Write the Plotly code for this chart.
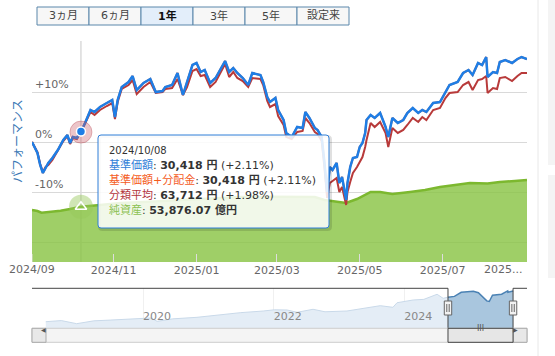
import plotly.graph_objects as go

# ---------------- data ----------------
dates = [
    "2024-09-02", "2024-09-06", "2024-09-08", "2024-09-10", "2024-09-12", "2024-09-14",
    "2024-09-17", "2024-09-21", "2024-09-25", "2024-09-28", "2024-09-30", "2024-10-02",
    "2024-10-05", "2024-10-08", "2024-10-11", "2024-10-13", "2024-10-15", "2024-10-18",
    "2024-10-22", "2024-10-27", "2024-10-31", "2024-11-02", "2024-11-04", "2024-11-07",
    "2024-11-12", "2024-11-15", "2024-11-18", "2024-11-23", "2024-11-28", "2024-12-02",
    "2024-12-07", "2024-12-09", "2024-12-14", "2024-12-18", "2024-12-22", "2024-12-25",
    "2024-12-29", "2025-01-01", "2025-01-04", "2025-01-07", "2025-01-11", "2025-01-15",
    "2025-01-17", "2025-01-22", "2025-01-25", "2025-01-28", "2025-01-31", "2025-02-04",
    "2025-02-08", "2025-02-11", "2025-02-17", "2025-02-19", "2025-02-22", "2025-02-24",
    "2025-02-28", "2025-03-02", "2025-03-06", "2025-03-08", "2025-03-12", "2025-03-16",
    "2025-03-20", "2025-03-22", "2025-03-25", "2025-03-29", "2025-03-31", "2025-04-03",
    "2025-04-05", "2025-04-07", "2025-04-09", "2025-04-11", "2025-04-14", "2025-04-16",
    "2025-04-18", "2025-04-21", "2025-04-22", "2025-04-24", "2025-04-26", "2025-04-29",
    "2025-05-01", "2025-05-03", "2025-05-05", "2025-05-06", "2025-05-09", "2025-05-12",
    "2025-05-16", "2025-05-20", "2025-05-22", "2025-05-25", "2025-05-29", "2025-06-02",
    "2025-06-05", "2025-06-09", "2025-06-13", "2025-06-16", "2025-06-19", "2025-06-24",
    "2025-06-29", "2025-07-03", "2025-07-06", "2025-07-12", "2025-07-16", "2025-07-20",
    "2025-07-23", "2025-07-27", "2025-07-30", "2025-08-02", "2025-08-03", "2025-08-07",
    "2025-08-10", "2025-08-12", "2025-08-16", "2025-08-21", "2025-08-25", "2025-08-28",
    "2025-09-01",
]
# 基準価額 performance (%)
price_pct = [
    0.0, -2.2, -4.6, -6.2, -5.2, -4.2,
    -3.2, -1.6, 0.4, 1.4, -0.2, 1.0,
    0.8, 2.11, 3.8, 5.0, 6.4, 6.0,
    7.0, 7.8, 8.4, 5.0, 8.4, 11.0,
    12.0, 13.2, 10.4, 11.8, 12.6, 10.0,
    10.2, 11.0, 11.4, 13.8, 9.4, 12.0,
    15.4, 15.8, 14.0, 14.4, 11.8, 12.8,
    13.8, 16.2, 14.0, 14.8, 13.8, 12.8,
    11.4, 13.8, 13.4, 12.0, 9.0, 8.0,
    8.8, 6.4, 4.4, 1.8, 1.0, 3.0,
    2.8, 6.0, 4.8, 2.8, 2.4, 1.0,
    -4.0, -10.0, -5.0, -5.6, -4.2, -8.2,
    -7.0, -11.6, -8.2, -5.0, -3.2, -3.0,
    -1.0, -0.2, 1.8, 4.4, 5.4, 4.8,
    5.8, 3.0, 1.0, 4.8, 3.8, 4.4,
    5.8, 6.8, 5.8, 6.4, 6.0, 7.8,
    8.0, 10.0, 11.4, 12.0, 13.8, 14.4,
    13.4, 15.8, 15.4, 17.0, 13.0, 14.0,
    13.8, 16.0, 16.4, 15.8, 16.6, 17.0,
    16.6,
]
# 基準価額+分配金 performance (%) — no distributions, identical to 基準価額
price_dist_pct = list(price_pct)
# 分類平均 performance (%)
category_pct = [
    0.0, -2.0, -4.4, -6.0, -5.0, -4.6,
    -3.6, -1.8, 0.2, 1.2, -0.4, 0.8,
    0.6, 1.98, 3.6, 4.6, 6.0, 5.4,
    6.4, 7.2, 7.8, 4.6, 8.0, 10.6,
    11.4, 12.4, 9.6, 11.0, 12.0, 9.8,
    10.0, 10.6, 10.8, 12.6, 9.4, 11.0,
    14.2, 14.6, 13.2, 13.4, 11.0, 12.0,
    13.0, 15.6, 13.0, 14.0, 12.8, 12.2,
    11.0, 12.8, 12.6, 11.4, 8.2, 7.0,
    7.6, 5.2, 3.4, 1.0, 0.6, 2.0,
    2.2, 4.8, 3.8, 2.0, 1.6, 0.2,
    -5.0, -11.2, -8.2, -7.8, -7.2, -10.0,
    -9.0, -12.6, -10.0, -8.0, -6.2, -5.0,
    -4.0, -3.0, -1.0, 0.4, 3.8, 3.0,
    4.0, 1.8, -1.0, 2.8, 1.8, 2.4,
    3.4, 4.8, 4.0, 5.0, 4.4, 6.4,
    6.8, 8.8, 9.8, 10.0, 11.4, 12.0,
    10.4, 12.4, 12.6, 13.2, 9.8, 10.8,
    10.6, 12.8, 13.0, 12.2, 13.2, 13.8,
    13.8,
]

# 純資産 (億円)
asset_dates = [
    "2024-09-02", "2024-09-06", "2024-09-09", "2024-09-15", "2024-09-23", "2024-09-30",
    "2024-10-08", "2024-10-22", "2024-11-06", "2024-11-27", "2024-12-19", "2025-01-11",
    "2025-02-02", "2025-02-24", "2025-03-18", "2025-03-29", "2025-04-05", "2025-04-12",
    "2025-04-21", "2025-04-29", "2025-05-09", "2025-05-16", "2025-05-25", "2025-06-07",
    "2025-06-18", "2025-06-29", "2025-07-10", "2025-07-21", "2025-08-03", "2025-08-12",
    "2025-08-23", "2025-09-01",
]
net_assets = [
    50650, 49670, 48030, 48700, 49970, 51600,
    53876.07, 55520, 57470, 58730, 60390, 62340,
    63300, 63600, 63300, 63300, 60400, 59400,
    57470, 61360, 68180, 68180, 66230, 68180,
    70130, 73050, 75000, 76950, 76460, 77920,
    78900, 79870,
]

# navigator: 基準価額 (円) since inception
hist_dates = [
    "2018-07-06", "2018-10-01", "2018-12-26", "2019-04-01", "2019-07-01", "2019-10-24",
    "2020-02-15", "2020-03-20", "2020-06-15", "2020-10-29", "2021-03-01", "2021-07-01",
    "2021-11-03", "2022-01-04", "2022-03-17", "2022-05-12", "2022-08-09", "2022-10-15",
    "2023-02-15", "2023-05-15", "2023-08-20", "2023-10-30", "2023-11-22", "2024-02-20",
    "2024-04-20", "2024-07-03", "2024-08-06", "2024-09-02",
]
hist_price = [
    10000, 10900, 8400, 10700, 11300, 11900,
    13000, 10300, 12300, 13550, 15500, 17300,
    18600, 19600, 19430, 17580, 20000, 18000,
    18620, 20500, 22900, 21600, 25300, 27500,
    28000, 32100, 28860, 29789,
]
sel_dates = [
    "2024-09-02", "2024-10-08", "2024-11-15", "2025-01-22", "2025-02-19", "2025-03-12",
    "2025-04-07", "2025-04-21", "2025-05-09", "2025-06-29", "2025-08-02", "2025-08-03",
    "2025-09-01",
]
sel_price = [
    29789, 30418, 33700, 34600, 33400, 30100,
    26800, 26300, 31400, 32200, 34850, 33660,
    34730,
]

x_tick_vals = ["2024-09-02", "2024-11-01", "2025-01-01", "2025-03-01", "2025-05-01", "2025-07-01"]
x_tick_text = ["2024/09", "2024/11", "2025/01", "2025/03", "2025/05", "2025/07"]
x_last_label = "2025..."
y_tick_vals = [-20, -10, 0, 10, 20]
y_tick_text = ["", "-10%", "0%", "+10%", ""]
nav_tick_vals = ["2020-01-01", "2022-01-01", "2024-01-01"]
nav_tick_text = ["2020", "2022", "2024"]
range_buttons = ["3ヵ月", "6ヵ月", "1年", "3年", "5年", "設定来"]
selected_button = 2

hover_date = "2024-10-08"
hover_label_date = "2024/10/08"
hover_price_yen = "30,418"
hover_category_yen = "63,712"

# ---------------- layout helpers ----------------
PL, PT, PW, PH = 32, 41, 495, 307
W, H = 555, 356


def fx(px):
    return (px - PL) / PW


def fy(py):
    return (PT + PH - py) / PH


FONT = "DejaVu Sans, Noto Sans CJK JP, sans-serif"
BLUE = "#1e7ee6"
RED = "#b83a3a"
ORANGE = "#f45b1d"
GREEN_LINE = "#7cb82f"

hi = dates.index(hover_date)
ai = asset_dates.index(hover_date)

fig = go.Figure()

# 基準価額+分配金 (hidden beneath 基準価額)
fig.add_trace(go.Scatter(x=dates, y=price_dist_pct, mode="lines",
                         line=dict(color=ORANGE, width=2), xaxis="x", yaxis="y",
                         hoverinfo="skip"))
# 純資産 area
fig.add_trace(go.Scatter(x=asset_dates, y=net_assets, mode="lines", fill="tozeroy",
                         fillcolor="rgba(135,195,65,0.80)",
                         line=dict(color=GREEN_LINE, width=2.5), xaxis="x", yaxis="y2",
                         hoverinfo="skip"))
# 分類平均
fig.add_trace(go.Scatter(x=dates, y=category_pct, mode="lines",
                         line=dict(color=RED, width=2), xaxis="x", yaxis="y3",
                         hoverinfo="skip"))
# 基準価額
fig.add_trace(go.Scatter(x=dates, y=price_pct, mode="lines",
                         line=dict(color=BLUE, width=2.5), xaxis="x", yaxis="y3",
                         hoverinfo="skip"))
# hover markers
fig.add_trace(go.Scatter(x=[dates[hi]], y=[category_pct[hi]], mode="markers",
                         marker=dict(size=22, color="rgba(200,90,100,0.35)",
                                     line=dict(color="rgba(180,70,80,0.35)", width=1)),
                         xaxis="x", yaxis="y3", hoverinfo="skip"))
fig.add_trace(go.Scatter(x=[dates[hi]], y=[price_pct[hi]], mode="markers",
                         marker=dict(size=9, color=BLUE, line=dict(color="white", width=1.5)),
                         xaxis="x", yaxis="y3", hoverinfo="skip"))
fig.add_trace(go.Scatter(x=[asset_dates[ai]], y=[net_assets[ai]], mode="markers",
                         marker=dict(size=24, color="rgba(150,200,90,0.45)"),
                         xaxis="x", yaxis="y2", hoverinfo="skip"))
fig.add_trace(go.Scatter(x=[asset_dates[ai]], y=[net_assets[ai]], mode="markers",
                         marker=dict(size=10, symbol="triangle-up-open", color="white",
                                     line=dict(width=1.5)),
                         xaxis="x", yaxis="y2", hoverinfo="skip"))
# navigator series
fig.add_trace(go.Scatter(x=hist_dates, y=hist_price, mode="lines", fill="tozeroy",
                         fillcolor="#e4edf6", line=dict(color="#c9d9e9", width=1),
                         xaxis="x2", yaxis="y4", hoverinfo="skip"))
fig.add_trace(go.Scatter(x=sel_dates, y=sel_price, mode="lines", fill="tozeroy",
                         fillcolor="#a9c6de", line=dict(color="#4b82b4", width=1.5),
                         xaxis="x2", yaxis="y4", hoverinfo="skip"))

main_bottom = fy(262)
nav_bottom, nav_top = fy(328), fy(288.3)
pct_range = [-24, 20.2]
nav_range = ["2018-04-20", "2025-11-18"]

fig.update_layout(
    width=W, height=H,
    margin=dict(l=PL, r=W - PL - PW, t=PT, b=H - PT - PH),
    paper_bgcolor="white", plot_bgcolor="white",
    showlegend=False, hovermode=False,
    font=dict(family=FONT, size=11, color="#666666"),
    xaxis=dict(domain=[0, 1], anchor="y", range=[dates[0], dates[-1]],
               tickvals=x_tick_vals[1:], ticktext=x_tick_text[1:],
               ticks="inside", ticklen=8, tickcolor="#dddddd",
               showgrid=False, zeroline=False, showline=False,
               tickfont=dict(size=11, color="#666666")),
    yaxis=dict(domain=[main_bottom, 1], anchor="x", range=pct_range,
               tickvals=y_tick_vals, ticktext=y_tick_text,
               ticklabelposition="inside top", showgrid=True, gridcolor="#d9d9d9",
               zeroline=False, ticks="", tickfont=dict(size=11, color="#666666")),
    yaxis2=dict(overlaying="y", range=[0, 215300], visible=False),
    yaxis3=dict(overlaying="y", range=pct_range, visible=False),
    xaxis2=dict(domain=[0, 1], anchor="y4", range=nav_range,
                tickvals=nav_tick_vals, ticktext=nav_tick_text,
                ticklabelposition="inside right", ticks="",
                showgrid=True, gridcolor="#f0f0f0", zeroline=False, showline=False,
                tickfont=dict(size=11, color="#888888")),
    yaxis4=dict(domain=[nav_bottom, nav_top], anchor="x2", range=[4922, 36920],
                visible=False),
)

shapes = []
annotations = []

# crosshair
shapes.append(dict(type="line", xref="x", yref="paper", x0=hover_date, x1=hover_date,
                   y0=main_bottom, y1=1, line=dict(color="#c8c8c8", width=1), layer="below"))

# first x label and tick (at the left edge of the range)
annotations.append(dict(text=x_tick_text[0], xref="x", yref="paper", x=x_tick_vals[0],
                        y=fy(269.5), xanchor="center", yanchor="middle", showarrow=False,
                        font=dict(family=FONT, size=11, color="#666666")))
shapes.append(dict(type="line", xref="x", yref="paper", x0=x_tick_vals[0], x1=x_tick_vals[0],
                   y0=main_bottom, y1=fy(254), line=dict(color="#dddddd", width=1)))

# tooltip box with rounded corners
tx0, tx1, ty0, ty1 = 98, 329, 135, 228
r = 3


def rounded(x0, y0, x1, y1, rad):
    rx, ry = rad / PW, rad / PH
    X0, X1, Y0, Y1 = fx(x0), fx(x1), fy(y1), fy(y0)
    return (f"M {X0+rx},{Y1} L {X1-rx},{Y1} Q {X1},{Y1} {X1},{Y1-ry} "
            f"L {X1},{Y0+ry} Q {X1},{Y0} {X1-rx},{Y0} L {X0+rx},{Y0} "
            f"Q {X0},{Y0} {X0},{Y0+ry} L {X0},{Y1-ry} Q {X0},{Y1} {X0+rx},{Y1} Z")


shapes.append(dict(type="path", xref="paper", yref="paper",
                   path=rounded(tx0 + 1.5, ty0 + 1.5, tx1 + 1.5, ty1 + 1.5, r),
                   line=dict(color="rgba(0,0,0,0.12)", width=3)))
shapes.append(dict(type="path", xref="paper", yref="paper",
                   path=rounded(tx0, ty0, tx1, ty1, r),
                   fillcolor="rgba(255,255,255,0.86)", line=dict(color="#2f7ed8", width=1)))

tip_lines = [
    f'<span style="font-size:10px">{hover_label_date}</span>',
    f'<span style="color:#2f7ed8">基準価額</span>: <b>{hover_price_yen} 円</b> (+{price_pct[hi]:.2f}%)',
    f'<span style="color:{ORANGE}">基準価額+分配金</span>: <b>{hover_price_yen} 円</b> (+{price_dist_pct[hi]:.2f}%)',
    f'<span style="color:#b3343c">分類平均</span>: <b>{hover_category_yen} 円</b> (+{category_pct[hi]:.2f}%)',
    f'<span style="color:#8cc152">純資産</span>: <b>{net_assets[ai]:,.2f} 億円</b>',
]
tip_y = [150.5, 165, 180, 195, 210]
for t, yy in zip(tip_lines, tip_y):
    annotations.append(dict(text=t, xref="paper", yref="paper", x=fx(107), y=fy(yy),
                            xanchor="left", yanchor="middle", showarrow=False,
                            font=dict(family=FONT, size=11, color="#333333")))

# y-axis title
annotations.append(dict(text="パフォーマンス", xref="paper", yref="paper", x=fx(18), y=fy(141),
                        textangle=-90, showarrow=False, xanchor="center", yanchor="middle",
                        font=dict(family=FONT, size=12, color="#3a78b5")))
# truncated last x label
annotations.append(dict(text=x_last_label, xref="x", yref="paper", x=dates[-1], y=fy(269.5),
                        xanchor="right", yanchor="middle", xshift=-3, showarrow=False,
                        font=dict(family=FONT, size=11, color="#666666")))

# range selector buttons
for i, lab in enumerate(range_buttons):
    bx0 = 37 + 52 * i
    bx1 = bx0 + 52
    sel = i == selected_button
    shapes.append(dict(type="rect", xref="paper", yref="paper", x0=fx(bx0), x1=fx(bx1),
                       y0=fy(25), y1=fy(7), fillcolor="#e3eefa" if sel else "#f7f7f7",
                       line=dict(color="#5b87ab", width=1)))
    annotations.append(dict(text=f"<b>{lab}</b>" if sel else lab, xref="paper", yref="paper",
                            x=fx((bx0 + bx1) / 2), y=fy(16), showarrow=False,
                            xanchor="center", yanchor="middle",
                            font=dict(family=FONT, size=11, color="#111111" if sel else "#444444")))

# navigator outline and handles
sel0, sel1 = sel_dates[0], sel_dates[-1]
oc = dict(color="#444444", width=1)
shapes.append(dict(type="line", xref="x2", yref="paper", x0=nav_range[0], x1=sel0,
                   y0=nav_top, y1=nav_top, line=oc))
shapes.append(dict(type="line", xref="x2", yref="paper", x0=sel1, x1=nav_range[1],
                   y0=nav_top, y1=nav_top, line=oc))
for d in (sel0, sel1):
    shapes.append(dict(type="line", xref="x2", yref="paper", x0=d, x1=d,
                       y0=nav_bottom, y1=nav_top, line=oc))

# scrollbar
sb0, sb1 = fy(342.3), fy(328.3)
shapes.append(dict(type="rect", xref="paper", yref="paper", x0=0, x1=1, y0=sb0, y1=sb1,
                   fillcolor="#f4f4f4", line=dict(color="#cccccc", width=1)))
shapes.append(dict(type="rect", xref="paper", yref="paper", x0=0, x1=fx(46), y0=sb0, y1=sb1,
                   fillcolor="#e8e8e8", line=dict(color="#aaaaaa", width=1)))
shapes.append(dict(type="rect", xref="paper", yref="paper", x0=fx(513), x1=1, y0=sb0, y1=sb1,
                   fillcolor="#e8e8e8", line=dict(color="#aaaaaa", width=1)))
shapes.append(dict(type="rect", xref="x2", yref="paper", x0=sel0, x1=sel1, y0=sb0, y1=sb1,
                   fillcolor="#e6e6e6", line=dict(color="#444444", width=1)))
annotations.append(dict(text="◀", xref="paper", yref="paper", x=fx(39), y=fy(335.3),
                        showarrow=False, font=dict(size=6, color="#555555")))
annotations.append(dict(text="▶", xref="paper", yref="paper", x=fx(520), y=fy(335.3),
                        showarrow=False, font=dict(size=6, color="#555555")))
annotations.append(dict(text="III", xref="x2", yref="paper", x="2025-03-03", y=fy(335.3),
                        showarrow=False, font=dict(size=8, color="#555555")))

for d in (sel0, sel1):
    shapes.append(dict(type="rect", xref="x2", yref="paper", xsizemode="pixel", xanchor=d,
                       x0=-3.7, x1=3.7, y0=fy(315), y1=fy(301),
                       fillcolor="#f2f2f2", line=dict(color="#666666", width=1)))
    for dx in (-1.2, 1.2):
        shapes.append(dict(type="line", xref="x2", yref="paper", xsizemode="pixel", xanchor=d,
                           x0=dx, x1=dx, y0=fy(312), y1=fy(304),
                           line=dict(color="#666666", width=1)))

# page decorations at the right
shapes.append(dict(type="line", xref="paper", yref="paper", x0=fx(538), x1=fx(538),
                   y0=fy(356), y1=fy(0), line=dict(color="#e8e8e8", width=1)))
shapes.append(dict(type="rect", xref="paper", yref="paper", x0=fx(548), x1=fx(556),
                   y0=fy(165), y1=fy(0), fillcolor="#f4f4f4", line=dict(width=0)))
shapes.append(dict(type="rect", xref="paper", yref="paper", x0=fx(548), x1=fx(556),
                   y0=fy(278), y1=fy(175), fillcolor="#f4f4f4", line=dict(width=0)))

fig.update_layout(shapes=shapes, annotations=annotations)
fig.write_html("out.html",
               config={"displayModeBar": False, "staticPlot": True},
               post_script="document.body.style.margin='0px';document.body.style.overflow='hidden';")
